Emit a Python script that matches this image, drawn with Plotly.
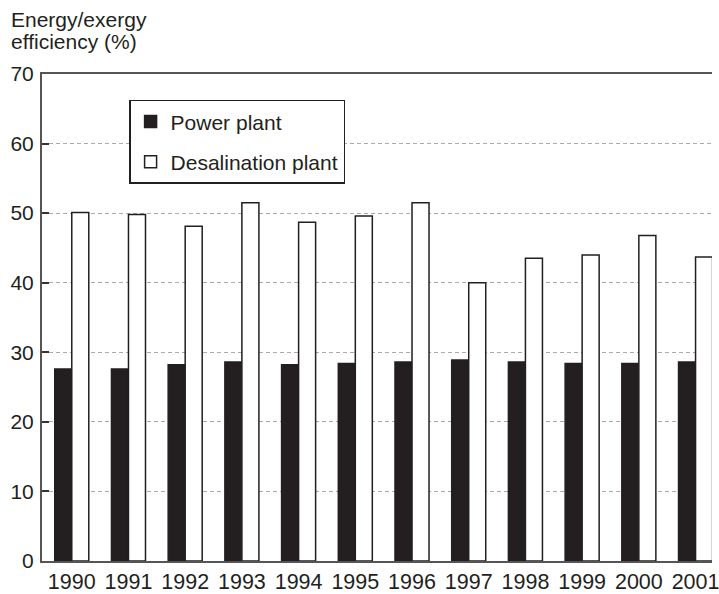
import plotly.graph_objects as go

years = ["1990", "1991", "1992", "1993", "1994", "1995", "1996",
         "1997", "1998", "1999", "2000", "2001"]
power_plant = [27.6, 27.6, 28.2, 28.6, 28.2, 28.4, 28.6, 28.9, 28.6, 28.4, 28.4, 28.6]
desalination_plant = [50.1, 49.8, 48.1, 51.5, 48.7, 49.6, 51.5, 40.0, 43.5, 44.0, 46.8, 43.7]
y_ticks = [0, 10, 20, 30, 40, 50, 60, 70]

FONT = "Liberation Sans, Arial, sans-serif"
W, H = 719, 594
ML, MR, MT, MB = 42, 0, 74, 28
plot_h = H - MT - MB
plot_w = W - ML - MR

fig = go.Figure()
fig.add_trace(go.Bar(
    x=years, y=power_plant, name="Power plant", legendgroup="a",
    marker=dict(color="#231f20", line=dict(color="#231f20", width=1.5)),
))
fig.add_trace(go.Bar(
    x=years, y=desalination_plant, name="Desalination plant", legendgroup="b",
    marker=dict(color="white", line=dict(color="#231f20", width=1.5)),
))

fig.update_layout(
    width=W, height=H,
    margin=dict(l=ML, r=MR, t=MT, b=MB, pad=0),
    paper_bgcolor="white", plot_bgcolor="white",
    font=dict(family=FONT, size=21, color="#231f20"),
    barmode="group", bargap=0.40, bargroupgap=0,
    showlegend=True,
    legend=dict(
        x=(130 - ML) / plot_w, y=(H - MB - 100) / plot_h,
        xanchor="left", yanchor="top",
        bordercolor="#231f20", borderwidth=1.5, bgcolor="white",
        font=dict(family=FONT, size=21, color="#231f20"),
        traceorder="grouped", tracegroupgap=10,
    ),
    xaxis=dict(
        type="category", range=[-0.525, 11.29],
        showline=True, linecolor="#555555", linewidth=2, mirror=True,
        ticks="", showgrid=False, tickfont=dict(size=21.5),
    ),
    yaxis=dict(
        range=[0, 70], tickvals=y_ticks, ticktext=[str(v) for v in y_ticks],
        showline=True, linecolor="#555555", linewidth=2, mirror=False,
        ticks="inside", ticklen=7, tickwidth=2, tickcolor="#333333",
        ticklabelstandoff=2,
        showgrid=True, gridcolor="#aaaaaa", gridwidth=1, griddash="4px,3px",
        zeroline=False, tickfont=dict(size=21),
    ),
)

fig.add_annotation(text="Energy/exergy", xref="paper", yref="paper",
                   x=(9 - ML) / plot_w, y=(H - MB - 5) / plot_h,
                   xanchor="left", yanchor="top", showarrow=False,
                   font=dict(family=FONT, size=21, color="#231f20"))
fig.add_annotation(text="efficiency (%)", xref="paper", yref="paper",
                   x=(9 - ML) / plot_w, y=(H - MB - 28) / plot_h,
                   xanchor="left", yanchor="top", showarrow=False,
                   font=dict(family=FONT, size=21, color="#231f20"))

fig.write_html(
    "out.html",
    config={"displayModeBar": False},
    post_script="document.body.style.margin='0';document.body.style.overflow='hidden';",
)
